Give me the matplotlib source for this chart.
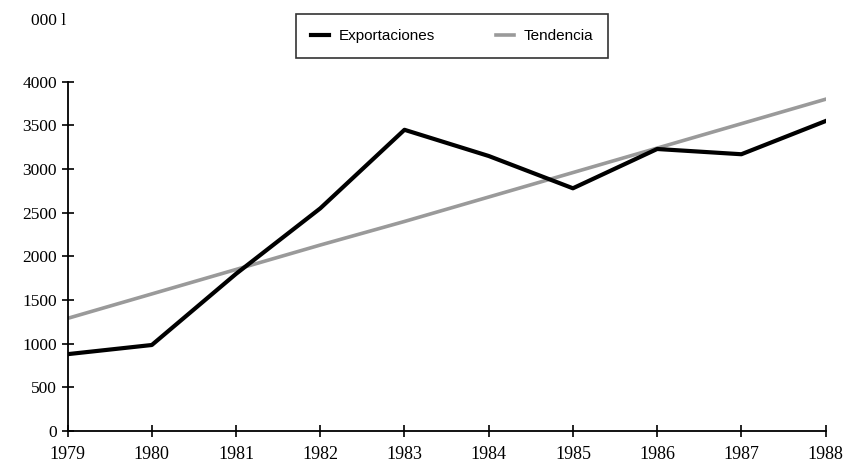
import matplotlib
matplotlib.use("Agg")
import matplotlib.pyplot as plt

# values (thousand litres)
years = [1979, 1980, 1981, 1982, 1983, 1984, 1985, 1986, 1987, 1988]
exportaciones = [880, 985, 1800, 2550, 3450, 3150, 2780, 3230, 3170, 3550]
tendencia = [1290, 1570, 1850, 2130, 2400, 2680, 2960, 3240, 3520, 3800]
y_ticks = [0, 500, 1000, 1500, 2000, 2500, 3000, 3500, 4000]

fig = plt.figure(figsize=(8.45, 4.7), dpi=100)
ax = fig.add_axes([0.080, 0.083, 0.897, 0.743])

ax.plot(years, tendencia, color="#9a9a9a", linewidth=2.6, label="Tendencia", zorder=2)
ax.plot(years, exportaciones, color="black", linewidth=3.0, label="Exportaciones", zorder=3)

ax.set_xlim(years[0], years[-1])
ax.set_ylim(0, 4000)
ax.set_xticks(years)
ax.set_yticks(y_ticks)
ax.set_xticklabels([str(y) for y in years], family="Liberation Serif", fontsize=13)
ax.set_yticklabels([str(v) for v in y_ticks], family="Liberation Serif", fontsize=12.5)

for side in ("top", "right"):
    ax.spines[side].set_visible(False)
for side in ("left", "bottom"):
    ax.spines[side].set_linewidth(1.3)
ax.tick_params(axis="both", direction="inout", length=9, width=1.2, pad=3)
ax.tick_params(axis="x", pad=6)

# legend: Exportaciones first, as in the original
handles, labels = ax.get_legend_handles_labels()
leg = fig.legend(handles[::-1], labels[::-1], loc="center", bbox_to_anchor=(0.535, 0.923),
                 ncol=2, frameon=True, fancybox=False, edgecolor="black",
                 prop={"family": "Liberation Sans", "size": 11}, handlelength=1.2,
                 borderpad=1.0, columnspacing=4.0, handletextpad=0.6, borderaxespad=0)
leg.get_frame().set_linewidth(1.2)

fig.text(0.037, 0.955, "000 l", family="Liberation Serif", fontsize=12.5, va="center")

fig.savefig("out.png", dpi=100)
